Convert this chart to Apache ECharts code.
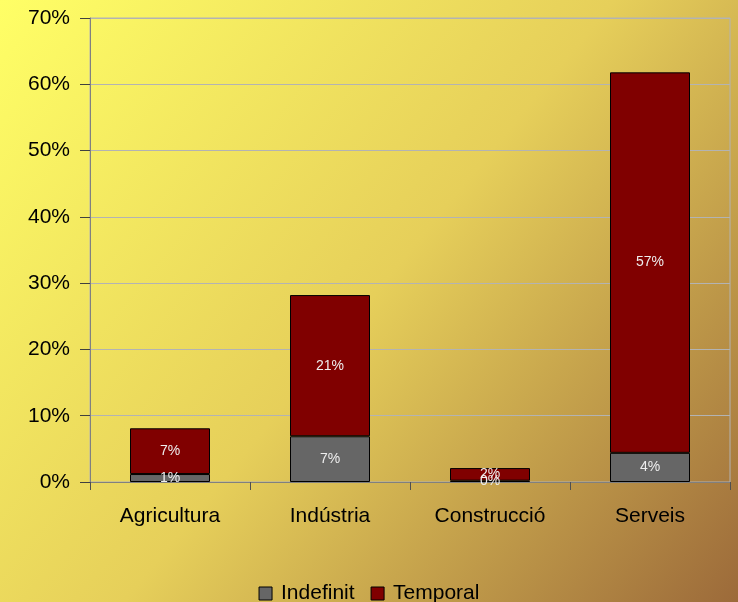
<!DOCTYPE html>
<html>
<head>
<meta charset="utf-8">
<script src="https://cdn.jsdelivr.net/npm/echarts@6/dist/echarts.min.js"></script>
<style>html,body{margin:0;padding:0;}#c{width:738px;height:602px;}</style>
</head>
<body>
<div id="c"></div>
<script>
var categories = ['Agricultura', 'Indústria', 'Construcció', 'Serveis'];
var indefinit = [1.2, 6.9, 0.2, 4.4];
var temporal = [6.9, 21.3, 1.9, 57.4];
var yTicks = [0, 10, 20, 30, 40, 50, 60, 70];

var chart = echarts.init(document.getElementById('c'));
var lbl = {
  show: true, position: 'inside', color: '#eeeeee', fontSize: 14,
  fontFamily: 'Liberation Sans',
  formatter: function (p) { return Math.round(p.value) + '%'; }
};
chart.setOption({
  backgroundColor: {
    type: 'linear', x: 0, y: 0, x2: 1, y2: 1,
    colorStops: [
      { offset: 0, color: '#ffff66' },
      { offset: 0.5, color: '#e6cf5a' },
      { offset: 1, color: '#9c6a3a' }
    ]
  },
  textStyle: { fontFamily: 'Liberation Sans' },
  grid: { left: 90, right: 8, top: 18, bottom: 120, show: true, borderColor: '#b3b3b3', borderWidth: 1 },
  legend: {
    top: 578, left: 'center', itemWidth: 13, itemHeight: 13, itemGap: 16, icon: 'rect',
    textStyle: { fontSize: 21, color: '#000', fontFamily: 'Liberation Sans', padding: [0, 0, 0, 4] },
    data: [
      { name: 'Indefinit', itemStyle: { borderColor: '#000', borderWidth: 1 } },
      { name: 'Temporal', itemStyle: { borderColor: '#000', borderWidth: 1 } }
    ]
  },
  xAxis: {
    type: 'category', data: categories,
    axisLine: { lineStyle: { color: '#808080', width: 1 } },
    axisTick: { show: true, length: 8, lineStyle: { color: '#505050' } },
    axisLabel: { fontSize: 21, color: '#000', margin: 24 }
  },
  yAxis: {
    type: 'value', min: 0, max: 70, interval: 10,
    axisLine: { show: true, lineStyle: { color: '#808080', width: 1 } },
    axisTick: { show: true, length: 10, lineStyle: { color: '#404040' } },
    axisLabel: { fontSize: 21, color: '#000', margin: 20, formatter: function (v) { return v + '%'; } },
    splitLine: { lineStyle: { color: '#b3b3b3', width: 1 } }
  },
  series: [
    {
      name: 'Indefinit', type: 'bar', stack: 'a', data: indefinit, barWidth: 80,
      itemStyle: { color: '#666666', borderColor: '#000', borderWidth: 1 },
      label: lbl
    },
    {
      name: 'Temporal', type: 'bar', stack: 'a', data: temporal, barWidth: 80,
      itemStyle: { color: '#800000', borderColor: '#000', borderWidth: 1 },
      label: lbl
    }
  ]
});
</script>
</body>
</html>
